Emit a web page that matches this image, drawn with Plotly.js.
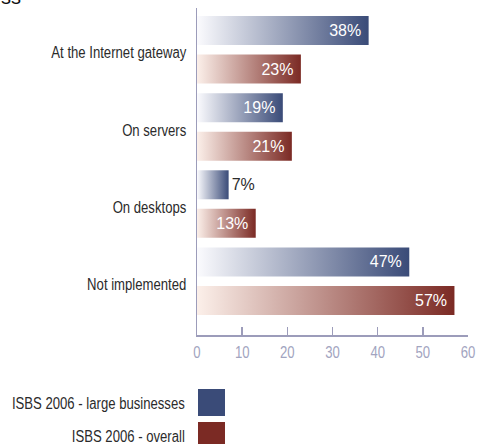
<!DOCTYPE html>
<html><head><meta charset="utf-8">
<script src="https://cdn.plot.ly/plotly-3.0.1.min.js"></script>
<style>html,body{margin:0;padding:0;background:#fff;overflow:hidden}</style>
</head><body>
<div id="chart" style="width:478px;height:444px"></div>
<script>
// ---- data ----
const categories = ['At the Internet gateway', 'On servers', 'On desktops', 'Not implemented'];
const seriesNames = ['ISBS 2006 - large businesses', 'ISBS 2006 - overall'];
const largeBusinesses = [38, 19, 7, 47];
const overall = [23, 21, 13, 57];
const xTickValues = [0, 10, 20, 30, 40, 50, 60];
const titleFragment = 'ss';

// ---- styling ----
const W = 478, H = 444;
const M = {l: 197, r: 10, t: 8, b: 109};
const pw = W - M.l - M.r, ph = H - M.t - M.b;
const px2x = p => (p - M.l) / pw;
const px2y = p => (H - M.b - p) / ph;
const REG = '"Liberation Sans", Arial, sans-serif';
const NARROW_K = 0.82; // Arial Narrow ~ Arial compressed horizontally
const AXIS = '#9c9cba';
const TEXT = '#2b2b2b';
const colors = ['#3a4b78', '#7b2a24'];
const startColors = ['#fbfbfe', '#fcf0ea'];

function mkTrace(vals, i) {
  return {
    type: 'bar', orientation: 'h', name: seriesNames[i],
    y: categories, x: vals,
    text: vals.map(v => v + '%\u00a0'),
    textposition: vals.map(v => v < 10 ? 'outside' : 'inside'),
    insidetextanchor: 'end',
    textangle: 0,
    insidetextfont: {family: REG, size: 16, color: '#ffffff'},
    outsidetextfont: {family: REG, size: 16, color: TEXT},
    marker: {color: colors[i], line: {width: 0}},
    cliponaxis: false,
    hoverinfo: 'skip'
  };
}
const traces = [mkTrace(largeBusinesses, 0), mkTrace(overall, 1)];

const legendShapes = [0, 1].map(i => ({
  type: 'rect', xref: 'paper', yref: 'paper', layer: 'above',
  x0: px2x(198), x1: px2x(225),
  y0: px2y(416 + 33 * i), y1: px2y(389 + 33 * i),
  fillcolor: colors[i], line: {width: 0}
}));
const legendTexts = [0, 1].map(i => ({
  xref: 'paper', yref: 'paper', x: px2x(187), y: px2y(403 + 34 * i),
  xanchor: 'right', yanchor: 'middle', align: 'right', showarrow: false,
  text: seriesNames[i], font: {family: REG, size: 16, color: TEXT},
  name: 'legendtext'
}));
const titleAnn = {
  xref: 'paper', yref: 'paper', x: px2x(-1), y: px2y(10),
  xanchor: 'left', yanchor: 'bottom', showarrow: false,
  text: titleFragment, font: {family: REG, size: 20, color: '#111'}
};

const layout = {
  width: W, height: H,
  margin: M,
  paper_bgcolor: '#fff', plot_bgcolor: '#fff',
  barmode: 'group', bargap: 0, bargroupgap: 0.248,
  showlegend: false,
  xaxis: {
    range: [0, 60], tickvals: xTickValues, ticktext: xTickValues.map(String),
    showgrid: false, zeroline: false,
    showline: true, linecolor: AXIS, linewidth: 1.5,
    ticks: 'inside', ticklen: 8, tickwidth: 1.5, tickcolor: AXIS,
    ticklabelstandoff: 2,
    tickfont: {family: REG, size: 16, color: '#a2a4c0'}
  },
  yaxis: {
    type: 'category', range: [3.697, -0.5415],
    showgrid: false, zeroline: false,
    showline: true, linecolor: AXIS, linewidth: 1.5,
    ticks: '', ticklabelstandoff: 6, ticklabelshift: -3,
    tickfont: {family: REG, size: 16, color: TEXT}
  },
  shapes: legendShapes,
  annotations: legendTexts.concat([titleAnn])
};

Plotly.newPlot('chart', traces, layout, {staticPlot: true, displayModeBar: false}).then(gd => {
  const svg = gd.querySelector('.main-svg');
  const defs = svg.querySelector('defs');
  const NS = 'http://www.w3.org/2000/svg';
  colors.forEach((c, i) => {
    const g = document.createElementNS(NS, 'linearGradient');
    g.setAttribute('id', 'barGrad' + i);
    g.setAttribute('x1', '0'); g.setAttribute('x2', '1');
    g.setAttribute('y1', '0'); g.setAttribute('y2', '0');
    [[0, startColors[i]], [1, c]].forEach(([o, col]) => {
      const s = document.createElementNS(NS, 'stop');
      s.setAttribute('offset', o); s.setAttribute('stop-color', col);
      g.appendChild(s);
    });
    defs.appendChild(g);
  });
  gd.querySelectorAll('.barlayer .trace').forEach((tr, i) => {
    tr.querySelectorAll('.point path').forEach(p => { p.style.fill = 'url(#barGrad' + i + ')'; });
  });
  // condensed look (Helvetica/Arial Narrow style) for axis and legend labels
  const condense = sel => gd.querySelectorAll(sel).forEach(t => {
    const w = t.getComputedTextLength();
    t.setAttribute('textLength', (w * NARROW_K).toFixed(2));
    t.setAttribute('lengthAdjust', 'spacingAndGlyphs');
  });
  condense('.ytick text');
  condense('.xtick text');
  gd.querySelectorAll('.annotation').forEach((a, idx) => {
    if (idx < legendTexts.length) {
      const t = a.querySelector('text.annotation-text');
      if (t) {
        const w = t.getComputedTextLength();
        t.setAttribute('textLength', (w * NARROW_K).toFixed(2));
        t.setAttribute('lengthAdjust', 'spacingAndGlyphs');
      }
    }
  });
});
</script>
</body></html>
